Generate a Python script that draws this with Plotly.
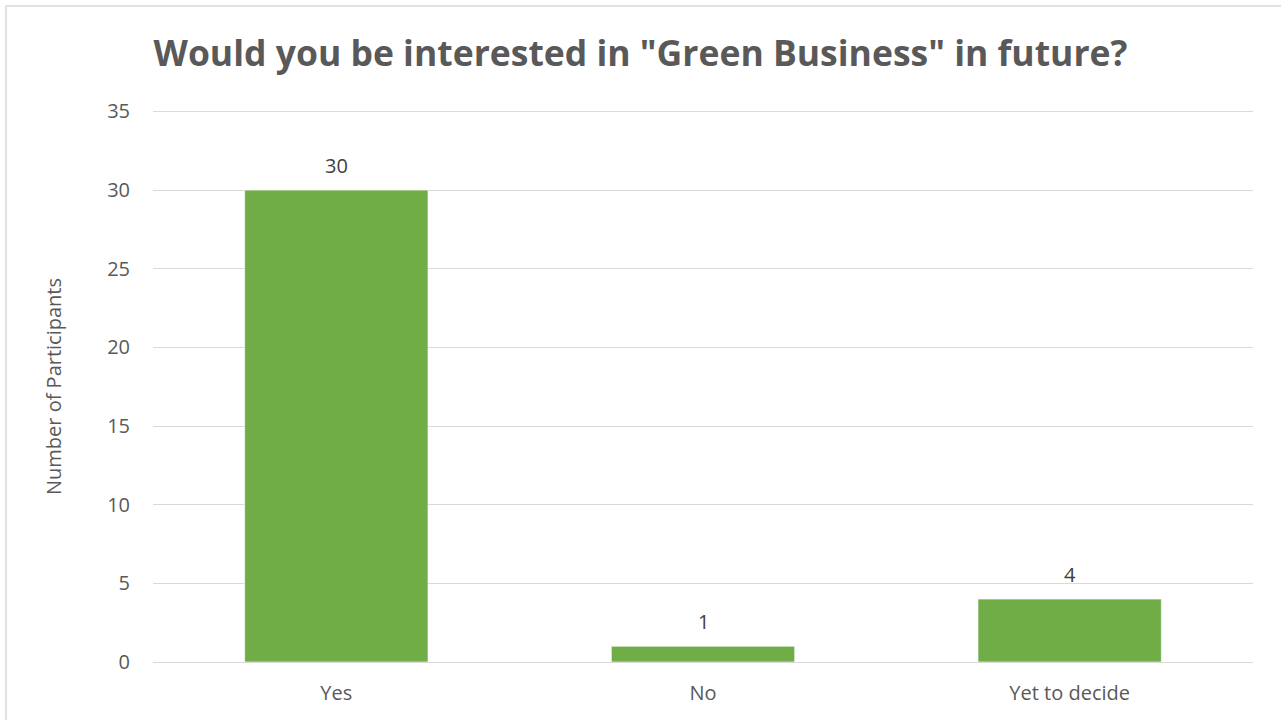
import plotly.graph_objects as go

categories = ["Yes", "No", "Yet to decide"]
values = [30, 1, 4]
y_ticks = [0, 5, 10, 15, 20, 25, 30, 35]

GRAY = "#595959"
GREEN = "#70AD47"
GRID = "#D9D9D9"
FONT = "Open Sans"
FS = 20

fig = go.Figure()
fig.add_trace(go.Bar(
    x=categories, y=values, width=0.5,
    marker=dict(color=GREEN, line=dict(color="rgba(255,255,255,0.6)", width=1)),
    showlegend=False,
))

for c, v in zip(categories, values):
    fig.add_annotation(x=c, y=v, text=str(v), showarrow=False,
                       yanchor="bottom", yshift=9,
                       font=dict(family=FONT, size=FS, color="#404040"))

fig.update_layout(
    width=1281, height=720,
    margin=dict(l=153, r=28, t=111, b=58),
    paper_bgcolor="white", plot_bgcolor="white",
    title=dict(text='<b>Would you be interested in "Green Business" in future?</b>',
               x=0.5, xanchor="center", y=0.926, yanchor="middle",
               font=dict(family=FONT, size=35.5, color=GRAY)),
    font=dict(family=FONT, size=FS, color=GRAY),
    xaxis=dict(showgrid=False, showline=False, ticks="", ticklabelstandoff=17,
               tickfont=dict(family=FONT, size=FS, color=GRAY)),
    yaxis=dict(range=[0, 35.03], tickvals=y_ticks, showgrid=True, gridcolor=GRID,
               gridwidth=1, zeroline=True, zerolinecolor=GRID, zerolinewidth=1,
               showline=False, ticks="", ticklabelstandoff=22,
               tickfont=dict(family=FONT, size=FS, color=GRAY),
               title=dict(text="Number of Participants", standoff=40,
                          font=dict(family=FONT, size=FS, color=GRAY))),
    shapes=[
        dict(type="line", xref="paper", yref="y", x0=0, x1=1,
             y0=y_ticks[-1], y1=y_ticks[-1], line=dict(color=GRID, width=1), layer="below"),
        dict(type="rect", xref="paper", yref="paper",
             x0=-147/1100, x1=1.05, y0=-0.2, y1=1 + 105/551,
             line=dict(color=GRID, width=1.5), fillcolor="rgba(0,0,0,0)"),
    ],
)

fig.write_html("out.html")
